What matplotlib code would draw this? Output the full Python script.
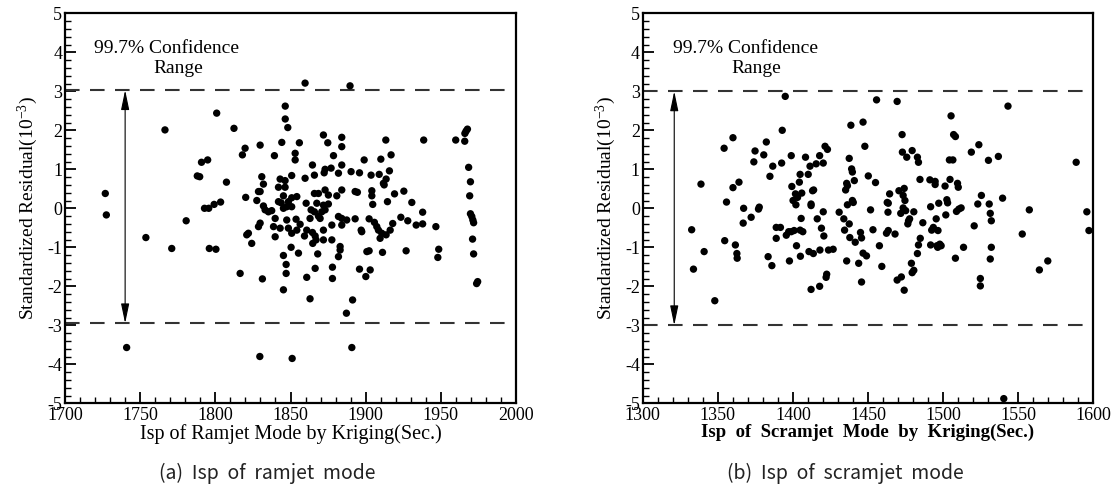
import matplotlib
matplotlib.use("Agg")
import matplotlib.pyplot as plt
from matplotlib.ticker import MultipleLocator

plt.rcParams['font.family'] = ['Liberation Serif', 'DejaVu Serif']
plt.rcParams['mathtext.fontset'] = 'custom'
plt.rcParams['mathtext.rm'] = 'Liberation Serif'
plt.rcParams['mathtext.it'] = 'Liberation Serif:italic'
plt.rcParams['axes.unicode_minus'] = False

# ---------------- data: (a) ramjet mode ----------------
ramjet_isp = [
    1726.8, 1727.5, 1741.0, 1753.8, 1766.5, 1771.0, 1780.6, 1788.0, 1789.6, 1790.8,
    1794.9, 1792.8, 1795.6, 1796.0, 1799.2, 1800.4, 1800.9, 1803.5, 1812.4, 1829.6,
    1846.5, 1846.5, 1848.2, 1851.1, 1859.7, 1863.0, 1887.2, 1889.6, 1890.8, 1891.3,
    1937.9, 1938.6, 1937.9, 1946.7, 1948.0, 1948.6, 1959.9, 1965.9, 1966.0, 1966.8,
    1967.7, 1968.5, 1969.7, 1969.2, 1969.7, 1970.6, 1971.3, 1971.8, 1971.1, 1971.8,
    1973.8, 1974.5,
    1871.9, 1884.1, 1819.8, 1829.8, 1844.2, 1855.9, 1818.0, 1839.3, 1853.1, 1853.1,
    1874.8, 1878.6, 1884.1, 1864.6, 1873.0, 1877.0, 1881.9, 1872.4, 1884.1, 1807.4,
    1830.9, 1832.0, 1843.1, 1846.4, 1850.8, 1859.7, 1865.9, 1846.4, 1842.0, 1829.8,
    1828.7, 1820.2, 1827.6, 1845.3, 1850.8, 1854.2, 1843.8, 1842.0, 1848.6, 1850.8,
    1860.4, 1865.9, 1868.6, 1873.0, 1875.2, 1880.8, 1867.5, 1871.9, 1875.2, 1884.1,
    1832.0, 1833.1, 1835.3, 1837.5, 1839.8, 1847.5, 1845.3, 1847.5, 1853.7, 1863.7,
    1865.9, 1868.6, 1870.8, 1863.0, 1869.7, 1873.0, 1881.9, 1884.1, 1829.8, 1828.7,
    1838.7, 1843.1, 1848.6, 1850.8, 1854.2, 1856.4, 1860.8, 1859.3, 1864.6, 1866.4,
    1867.0, 1864.8, 1871.9, 1871.9, 1877.5, 1877.5, 1884.1, 1883.0, 1883.0, 1822.0,
    1820.9, 1824.2, 1839.8, 1850.4, 1855.3, 1845.3, 1847.1, 1868.1, 1881.9, 1816.5,
    1831.3, 1847.1, 1860.8, 1866.4, 1877.9, 1877.9, 1845.3,
    1913.4, 1916.9, 1899.0, 1910.1, 1890.3, 1895.9, 1903.6, 1909.0, 1915.8, 1913.6,
    1911.8, 1912.3, 1893.0, 1894.5, 1904.1, 1904.1, 1919.2, 1925.4, 1904.7, 1914.5,
    1930.7, 1887.4, 1893.0, 1902.3, 1905.8, 1907.4, 1908.5, 1909.6, 1910.7, 1913.6,
    1916.3, 1918.0, 1923.4, 1928.0, 1933.6, 1897.0, 1897.4, 1900.8, 1902.3, 1911.2,
    1926.9, 1895.9, 1903.0, 1900.1,
]
ramjet_res = [
    0.38, -0.17, -3.57, -0.75, 2.01, -1.03, -0.32, 0.83, 0.81, 1.18,
    1.24, 0.00, 0.00, -1.03, 0.10, -1.05, 2.44, 0.16, 2.05, -3.80,
    2.62, 2.29, 2.07, -3.85, 3.21, -2.32, -2.69, 3.14, -3.57, -2.35,
    -0.10, 1.75, -0.40, -0.47, -1.26, -1.05, 1.75, 1.72, 1.92, 1.98,
    2.03, 1.05, 0.68, 0.32, -0.14, -0.21, -0.30, -0.37, -0.79, -1.17,
    -1.93, -1.88,
    1.88, 1.82, 1.54, 1.62, 1.69, 1.68, 1.37, 1.35, 1.41, 1.24,
    1.68, 1.35, 1.58, 1.11, 1.00, 1.03, 0.90, 0.91, 1.11, 0.67,
    0.81, 0.62, 0.75, 0.71, 0.84, 0.77, 0.85, 0.54, 0.54, 0.43,
    0.43, 0.28, 0.20, 0.32, 0.27, 0.30, 0.14, 0.17, 0.17, 0.04,
    0.13, 0.38, 0.38, 0.47, 0.34, 0.32, 0.13, 0.08, 0.11, 0.47,
    0.06, -0.04, -0.09, -0.06, -0.26, 0.04, -0.00, -0.30, -0.28, -0.04,
    -0.09, -0.20, -0.09, -0.26, -0.26, -0.04, -0.21, -0.26, -0.38, -0.47,
    -0.47, -0.51, -0.51, -0.64, -0.56, -0.41, -0.56, -0.71, -0.62, -0.71,
    -0.81, -0.90, -0.56, -0.81, -0.43, -0.81, -0.43, -0.98, -1.07, -0.64,
    -0.68, -0.90, -0.73, -1.00, -1.15, -1.21, -1.44, -1.17, -1.24, -1.67,
    -1.81, -1.67, -1.77, -1.54, -1.51, -1.80, -2.09,
    1.75, 1.37, 1.24, 1.26, 0.94, 0.91, 0.85, 0.87, 0.96, 0.75,
    0.64, 0.60, 0.43, 0.41, 0.45, 0.32, 0.37, 0.44, 0.10, 0.17,
    0.15, -0.30, -0.27, -0.27, -0.36, -0.47, -0.56, -0.77, -0.64, -0.68,
    -0.56, -0.39, -0.23, -0.32, -0.43, -0.56, -0.60, -1.11, -1.09, -1.13,
    -1.09, -1.56, -1.58, -1.75,
]

# ---------------- data: (b) scramjet mode ----------------
scramjet_isp = [
    1332.6, 1333.8, 1338.8, 1340.9, 1348.0, 1354.2, 1354.6, 1355.8, 1360.1, 1360.1,
    1361.7, 1362.7, 1362.9, 1364.1, 1367.2, 1366.9, 1372.2, 1374.0, 1374.8, 1377.1,
    1377.6, 1380.6, 1382.3, 1383.5, 1384.7, 1386.0, 1386.6, 1388.9, 1388.9, 1391.7,
    1392.5, 1392.9, 1394.9, 1395.6, 1397.2, 1397.7, 1398.9, 1399.3, 1398.9, 1400.1,
    1400.8, 1401.7, 1402.0, 1402.4, 1403.1, 1404.3, 1404.8, 1404.8, 1405.0, 1405.5,
    1405.9, 1406.6, 1408.4, 1410.2, 1410.7, 1411.4, 1412.1, 1412.1, 1412.1, 1413.1,
    1413.8, 1413.6, 1415.5, 1416.2, 1417.8, 1417.8, 1418.0, 1419.0, 1420.2, 1420.2,
    1420.6, 1421.4, 1422.1, 1422.5, 1423.0, 1423.7, 1426.8, 1430.8, 1433.9, 1434.4,
    1435.1, 1435.8, 1435.8, 1436.3, 1436.3, 1437.5, 1437.5, 1437.9, 1438.6, 1439.1,
    1439.6, 1439.6, 1440.2, 1440.9, 1441.5, 1443.8, 1445.0, 1445.7, 1445.7, 1446.7,
    1446.7, 1447.9, 1449.0, 1450.2, 1451.7, 1453.3, 1455.0, 1455.7, 1457.6, 1459.2,
    1462.3, 1462.8, 1463.3, 1463.5, 1463.5, 1464.4, 1468.0, 1469.4, 1469.4, 1470.6,
    1471.8, 1472.2, 1472.7, 1472.9, 1473.4, 1473.4, 1474.1, 1474.1, 1474.6, 1475.1,
    1475.8, 1476.5, 1477.0, 1477.7, 1478.9, 1479.4, 1479.4, 1480.5, 1480.5, 1482.9,
    1483.6, 1483.6, 1482.9, 1484.6, 1484.8, 1486.5, 1491.2, 1491.7, 1491.7, 1492.4,
    1493.5, 1494.7, 1494.7, 1495.4, 1495.9, 1496.6, 1496.4, 1497.1, 1497.8, 1498.7,
    1501.3, 1501.8, 1502.5, 1503.0, 1504.2, 1504.6, 1505.3, 1506.5, 1507.0, 1508.2,
    1508.2, 1508.9, 1509.6, 1510.1, 1510.5, 1512.0, 1513.6, 1518.8, 1520.7, 1523.8,
    1523.1, 1524.8, 1524.8, 1525.5, 1530.2, 1530.7, 1531.4, 1531.4, 1532.1, 1532.1,
    1536.8, 1539.6, 1540.4, 1543.2, 1552.7, 1557.4, 1564.1, 1569.7, 1588.6, 1595.7,
    1597.1,
]
scramjet_res = [
    -0.55, -1.56, 0.62, -1.11, -2.37, 1.54, -0.83, 0.16, 1.81, 0.53,
    -0.94, -1.16, -1.28, 0.67, 0.00, -0.38, -0.23, 1.19, 1.47, -0.02,
    0.03, 1.37, 1.70, -1.24, 0.82, -1.47, 1.08, -0.49, -0.77, -0.49,
    1.16, 2.00, 2.87, -0.69, -0.60, -1.35, 1.35, 0.56, -0.60, 0.20,
    -0.57, 0.37, 0.09, -0.96, 0.28, 0.67, 0.87, -0.56, -1.23, -0.26,
    0.39, -0.60, 1.31, 0.87, -1.11, 1.08, 0.11, 0.07, -2.08, 0.45,
    0.47, -1.16, 1.14, -0.27, 1.35, -2.00, -1.07, -0.51, 1.16, -0.09,
    -0.71, 1.59, -1.77, -1.69, 1.51, -1.07, -1.05, -0.10, -0.27, -0.56,
    0.47, 0.64, -1.35, 0.58, 0.09, -0.40, 1.28, -0.75, 2.13, 1.01,
    0.93, 0.20, 0.15, 0.71, -0.87, -1.41, -0.62, -0.76, -1.89, 2.21,
    -1.15, 1.59, -1.22, 0.83, -0.04, -0.55, 0.66, 2.78, -0.96, -1.49,
    -0.64, 0.15, -0.10, 0.13, -0.57, 0.37, -0.66, 2.74, -1.84, 0.45,
    -0.13, -1.76, 1.89, 1.44, 0.33, 0.01, 0.51, -2.10, 0.20, -0.06,
    1.31, -0.40, -0.32, -0.27, -1.41, 1.48, -1.65, -1.59, -0.09, 1.31,
    1.18, -0.94, -1.16, 0.74, -0.77, -0.37, 0.73, 0.04, -0.94, -0.56,
    -0.49, 0.69, 0.61, -0.27, -0.96, -0.57, -1.00, 0.13, -0.92, -0.96,
    0.57, -0.17, 0.22, 0.14, 1.24, 0.74, 2.37, 1.24, 1.89, 1.84,
    -1.28, -0.08, 0.64, 0.54, -0.02, 0.01, -1.00, 1.44, -0.45, 1.63,
    0.11, -1.80, -1.99, 0.33, 1.23, 0.11, -0.13, -1.30, -0.32, -1.00,
    1.33, 0.26, -4.88, 2.62, -0.66, -0.04, -1.58, -1.35, 1.18, -0.09,
    -0.57,
]

ramjet_xticks = [1700, 1750, 1800, 1850, 1900, 1950, 2000]
scramjet_xticks = [1300, 1350, 1400, 1450, 1500, 1550, 1600]
y_ticks = [-5, -4, -3, -2, -1, 0, 1, 2, 3, 4, 5]

W, H = 1118, 491
fig = plt.figure(figsize=(W / 100, H / 100), dpi=100)

ax1 = fig.add_axes([65 / W, (H - 403.3) / H, 451 / W, 390 / H])
ax2 = fig.add_axes([642.7 / W, (H - 403.3) / H, 450.6 / W, 390 / H])


def style(ax, xlim, xticks, xlabel, bold, xlsize):
    ax.set_xlim(*xlim)
    ax.set_ylim(-5, 5)
    ax.set_xticks(xticks)
    ax.set_yticks(y_ticks)
    ax.xaxis.set_minor_locator(MultipleLocator(10))
    ax.yaxis.set_minor_locator(MultipleLocator(0.2))
    ax.tick_params(which='both', direction='in', top=False, right=False,
                   labelsize=13, width=1.3, colors='black')
    ax.tick_params(which='major', length=8, pad=2)
    ax.tick_params(which='minor', length=4.5, width=1.0)
    ax.tick_params(axis='x', which='major', pad=2.5)
    for s in ax.spines.values():
        s.set_linewidth(1.6)
    ax.set_xlabel(xlabel, fontsize=xlsize, fontweight='bold' if bold else 'normal', labelpad=0)
    ax.set_ylabel('Standardized Residual(10$^{-3}$)', fontsize=14, labelpad=5)


ax1.scatter(ramjet_isp, ramjet_res, s=28, c='black', edgecolors='none', zorder=3)
ax2.scatter(scramjet_isp, scramjet_res, s=28, c='black', edgecolors='none', zorder=3)

style(ax1, (1700, 2000), ramjet_xticks, 'Isp of Ramjet Mode by Kriging(Sec.)', False, 14.5)
style(ax2, (1300, 1600), scramjet_xticks, 'Isp  of  Scramjet  Mode  by  Kriging(Sec.)', True, 13.5)

dash = (0, (7.0, 5.0))
for ax, up, lo, xa, xt, xr in [(ax1, 3.03, -2.95, 1740, 1719.5, 1775.6),
                                (ax2, 3.0, -3.0, 1321, 1320.2, 1375.3)]:
    ax.axhline(up, color='#333333', lw=1.5, ls=dash, zorder=2)
    ax.axhline(lo, color='#333333', lw=1.5, ls=dash, zorder=2)
    ax.annotate('', xy=(xa, up), xytext=(xa, lo),
                arrowprops=dict(arrowstyle='<|-|>,head_length=1.2,head_width=0.25',
                                color='black', lw=0.8, shrinkA=0, shrinkB=0))
    ax.text(xt, 4.1, '99.7% Confidence', fontsize=14, ha='left', va='center')
    ax.text(xr, 3.58, 'Range', fontsize=14, ha='center', va='center')

cap_font = ['Noto Sans CJK KR', 'DejaVu Sans']
fig.text(267 / W, 1 - 473 / H, '(a)  Isp  of  ramjet  mode', family=cap_font,
         fontsize=14, ha='center', va='center', color='#222222')
fig.text(845 / W, 1 - 473 / H, '(b)  Isp  of  scramjet  mode', family=cap_font,
         fontsize=14, ha='center', va='center', color='#222222')

fig.savefig('out.png', dpi=100)
